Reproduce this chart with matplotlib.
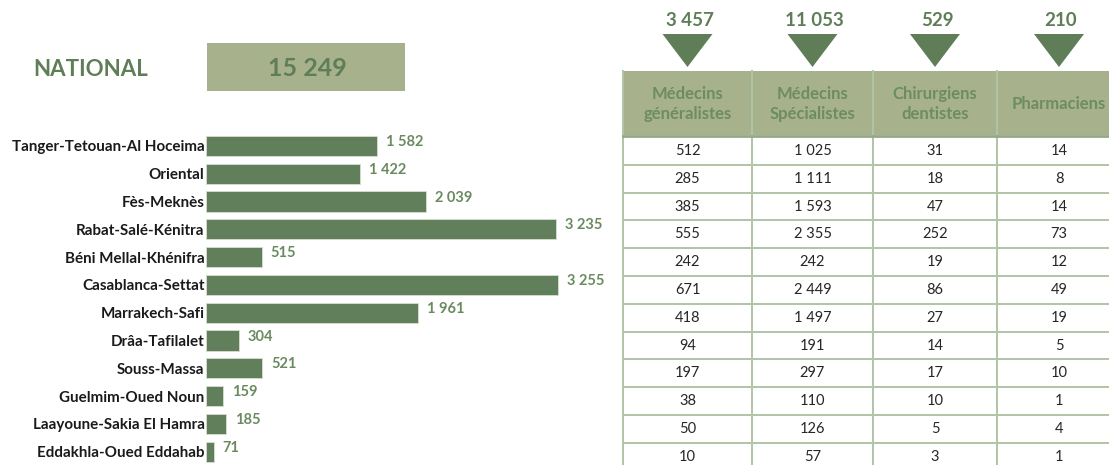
import matplotlib.pyplot as plt
from matplotlib.patches import Rectangle, Polygon

plt.rcParams['font.family'] = ['Lato', 'DejaVu Sans']

regions = ["Tanger-Tetouan-Al Hoceima", "Oriental", "Fès-Meknès", "Rabat-Salé-Kénitra",
           "Béni Mellal-Khénifra", "Casablanca-Settat", "Marrakech-Safi", "Drâa-Tafilalet",
           "Souss-Massa", "Guelmim-Oued Noun", "Laayoune-Sakia El Hamra", "Eddakhla-Oued Eddahab"]
effectif = [1582, 1422, 2039, 3235, 515, 3255, 1961, 304, 521, 159, 185, 71]
national_total = 15249

categories = ["Médecins\ngénéralistes", "Médecins\nSpécialistes", "Chirurgiens\ndentistes", "Pharmaciens"]
category_totals = [3457, 11053, 529, 210]
generalistes = [512, 285, 385, 555, 242, 671, 418, 94, 197, 38, 50, 10]
specialistes = [1025, 1111, 1593, 2355, 242, 2449, 1497, 191, 297, 110, 126, 57]
dentistes = [31, 18, 47, 252, 19, 86, 27, 14, 17, 10, 5, 3]
pharmaciens = [14, 8, 14, 73, 12, 49, 19, 5, 10, 1, 4, 1]
table_cols = [generalistes, specialistes, dentistes, pharmaciens]

BAR = "#617f5a"
LABEL = "#6a8a5f"
HEAD_BG = "#a7b28d"
GRID = "#b0c4a6"
W, H = 1109, 465


def fmt(v):
    return f"{v:,}".replace(",", " ")


def px_axes(fig, x0, y0, x1, y1):
    return fig.add_axes([x0 / W, 1 - y1 / H, (x1 - x0) / W, (y1 - y0) / H])


fig = plt.figure(figsize=(W / 100, H / 100), dpi=100)

# overlay in pixel coordinates for headers and table
ov = px_axes(fig, 0, 0, W, H)
ov.set_xlim(0, W); ov.set_ylim(H, 0); ov.axis("off")

ov.text(33, 69, "NATIONAL", fontsize=16, fontweight="bold", color="#5f7e57",
        ha="left", va="center")
ov.add_patch(Rectangle((207, 43), 198, 48, facecolor=HEAD_BG, edgecolor="none"))
ov.text(307, 69, fmt(national_total), fontsize=18, fontweight="bold", color="#5f7e57",
        ha="center", va="center")

# bar chart
ax = px_axes(fig, 206, 132, 606, 465.6)
y = list(range(len(regions)))
ax.barh(y, effectif, height=0.72, color=BAR, edgecolor="#d8dfd0", linewidth=0.6)
ax.set_xlim(0, 3700)
ax.set_ylim(len(regions) - 0.5, -0.5)
ax.set_yticks(y)
ax.set_yticklabels(regions, fontsize=10.9, fontweight="bold", color="#1a1a1a")
ax.tick_params(axis="y", length=0, pad=1)
ax.set_xticks([])
for s in ax.spines.values():
    s.set_visible(False)
for yi, v in zip(y, effectif):
    ax.annotate(fmt(v), (v, yi), xytext=(9, 4), textcoords="offset pixels",
                fontsize=10.5, fontweight="bold", color=LABEL, ha="left", va="center")

# table
edges = [623, 752, 873, 997, 1121]
centers = [(a + b) / 2 for a, b in zip(edges[:-1], edges[1:])]
head_top, head_bot = 71, 135
row_top, row_h = 137, 27.8
n = len(regions)

ov.add_patch(Rectangle((edges[0], head_top), edges[-1] - edges[0], head_bot - head_top,
                       facecolor=HEAD_BG, edgecolor="none"))
for xe in edges[:-1]:
    ov.plot([xe, xe], [head_top, H], color=GRID, lw=1.4)
ov.plot([edges[0], edges[-1]], [head_bot + 1, head_bot + 1], color="#93a887", lw=2)
for i in range(1, n + 1):
    yy = row_top + i * row_h
    ov.plot([edges[0], edges[-1]], [yy, yy], color=GRID, lw=1.4)

for c, cat, tot, col in zip(centers, categories, category_totals, table_cols):
    ov.text(c, (head_top + head_bot) / 2 + 1, cat, fontsize=12, fontweight="bold",
            color="#6d8c62", ha="center", va="center", linespacing=1.25)
    ov.add_patch(Polygon([(c - 25, 34), (c + 25, 34), (c, 67)], closed=True,
                         facecolor="#5f7e57", edgecolor="none"))
    ov.text(c + 2, 20, fmt(tot), fontsize=13.5, fontweight="bold", color="#5f7e57",
            ha="center", va="center")
    for i, v in enumerate(col):
        ov.text(c, row_top + (i + 0.5) * row_h, fmt(v), fontsize=10.5, color="#262626",
                ha="center", va="center")

fig.savefig("out.png", dpi=100)
